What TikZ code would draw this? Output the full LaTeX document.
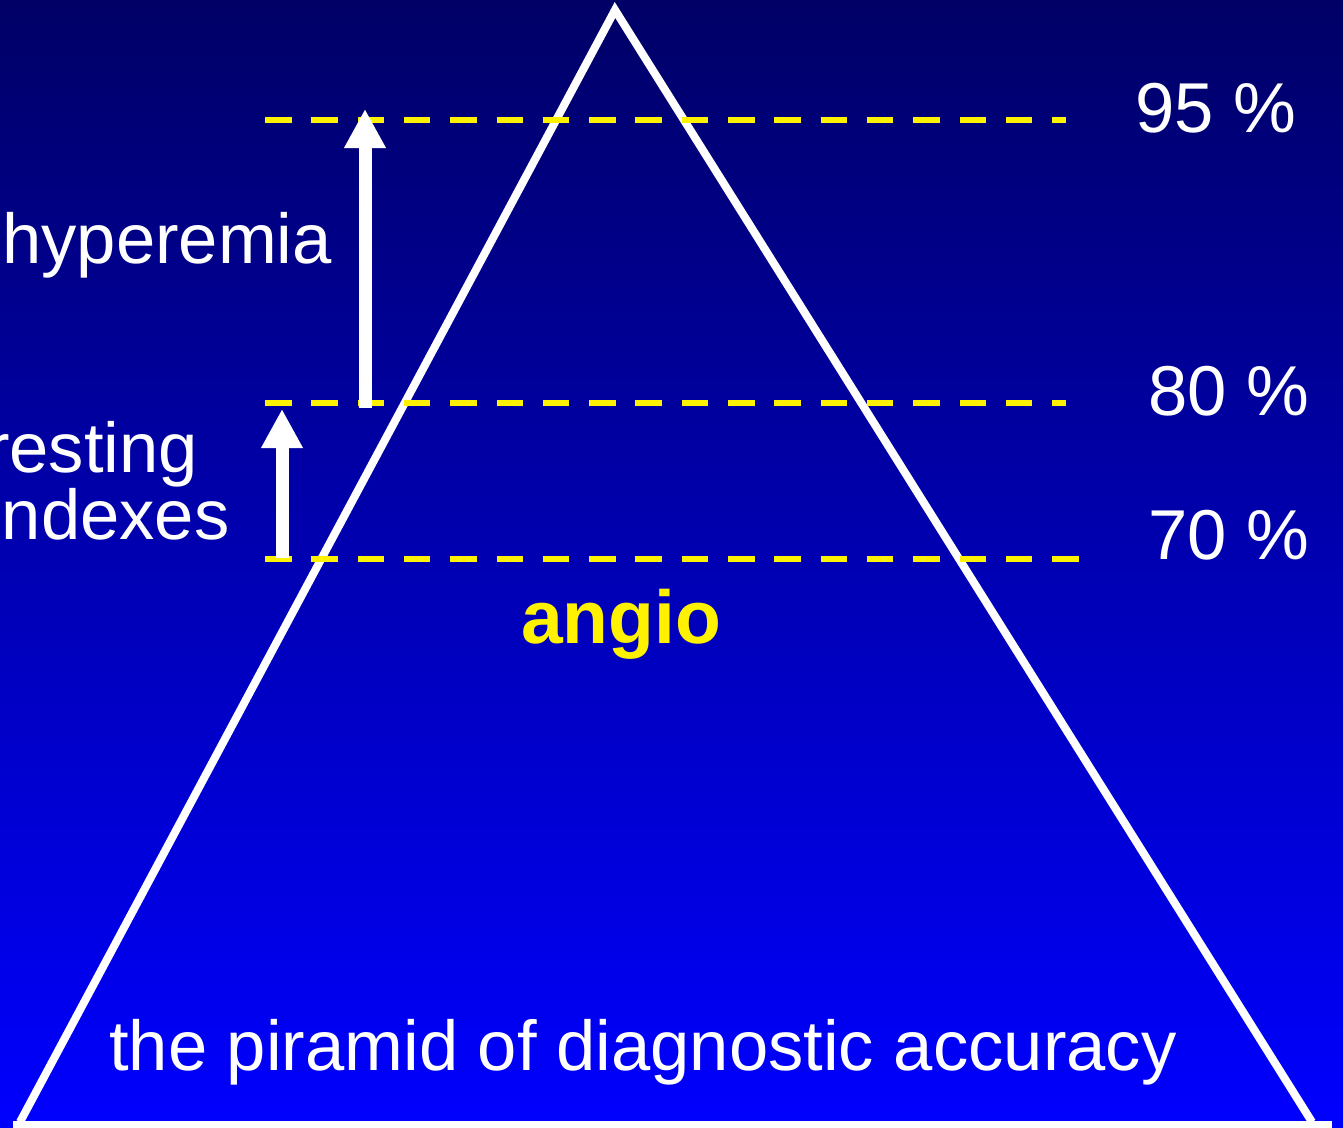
\documentclass[tikz,border=0pt]{standalone}
\usepackage{fontspec}
\setmainfont{Liberation Sans}
\usetikzlibrary{arrows.meta}
\begin{document}
\begin{tikzpicture}[x=1pt,y=-1pt,
  lbl/.style={text=white,inner sep=0pt,anchor=base west,font=\fontsize{70.6}{84}\selectfont},
  yline/.style={draw=yellow,line width=6.5pt,dash pattern=on 26.5pt off 19.8pt},
  edge/.style={draw=white,line width=8pt},
  uparrow/.style={draw=white,line width=13pt,-{Triangle[width=39pt,length=39pt]}}]
\useasboundingbox (0,0) rectangle (1343,1127);
\fill[top color={rgb,255:red,0;green,0;blue,102},middle color={rgb,255:red,0;green,0;blue,196},bottom color={rgb,255:red,0;green,0;blue,255}] (0,0) rectangle (1343,1127);
% pyramid
\coordinate (apex) at (615,10);
\coordinate (bl) at (20,1122);
\coordinate (br) at (1312,1122);
\coordinate (bl2) at (13,1125);
\coordinate (br2) at (1332,1125);
\draw[edge,line join=miter] (bl) -- (apex) -- (br);
\draw[edge] (bl2) -- (br2);
% dashed levels
\coordinate (l95a) at (265,120);  \coordinate (l95b) at (1066,120);
\coordinate (l80a) at (265,403);  \coordinate (l80b) at (1066,403);
\coordinate (l70a) at (265,559);  \coordinate (l70b) at (1079,559);
\draw[yline] (l95a) -- (l95b);
\draw[yline] (l80a) -- (l80b);
\draw[yline] (l70a) -- (l70b);
% arrows
\coordinate (h0) at (365,408);  \coordinate (h1) at (365,109);
\coordinate (r0) at (282,558);  \coordinate (r1) at (282,409);
\draw[uparrow] (h0) -- (h1);
\draw[uparrow] (r0) -- (r1);
% labels
\node[lbl] (hyp) at (2,263) {hyperemia};
\node[lbl] (rest) at (-14,472) {resting};
\node[lbl] (idx) at (-14,539) {indexes};
\node[lbl] (p95) at (1135,132) {95 \%};
\node[lbl] (p80) at (1148,415) {80 \%};
\node[lbl] (p70) at (1148,559) {70 \%};
\node[inner sep=0pt,anchor=base,text=yellow,font=\fontsize{75}{88}\selectfont\bfseries] (angio) at (621,643) {angio};
\node[lbl] (title) at (109,1070) {the piramid of diagnostic accuracy};
\end{tikzpicture}
\end{document}
